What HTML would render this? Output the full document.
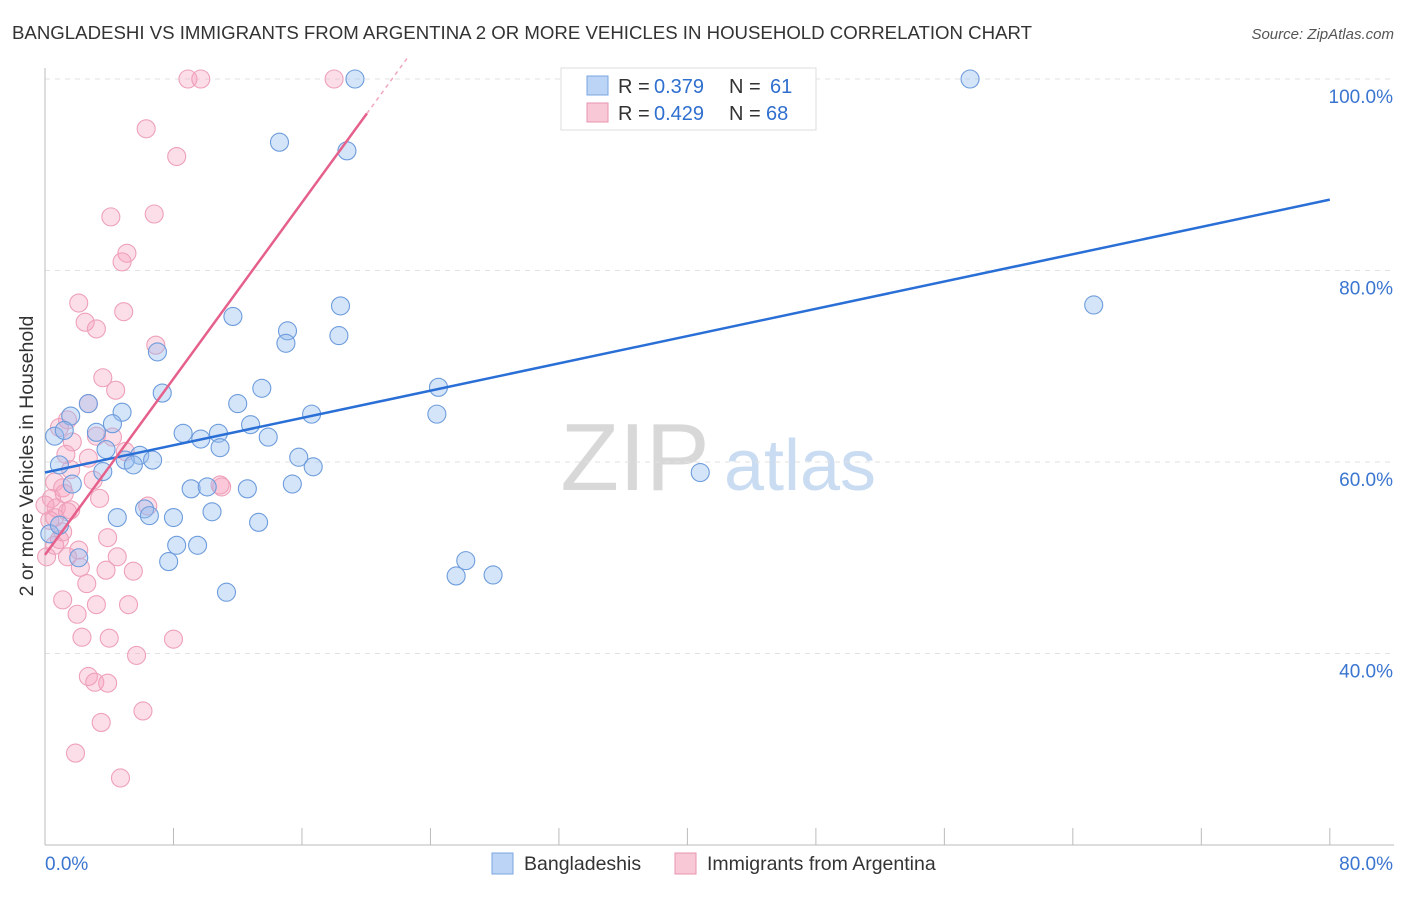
<!DOCTYPE html>
<html><head><meta charset="utf-8"><style>
body{margin:0;background:#fff;font-family:"Liberation Sans",sans-serif;}
svg text{font-family:"Liberation Sans",sans-serif;}
</style></head><body>
<svg id="chart" width="1406" height="892">
<text x="12" y="39" font-size="18" fill="#333" textLength="1020" lengthAdjust="spacingAndGlyphs">BANGLADESHI VS IMMIGRANTS FROM ARGENTINA 2 OR MORE VEHICLES IN HOUSEHOLD CORRELATION CHART</text>
<text x="1394" y="39" font-size="15" fill="#555" font-style="italic" text-anchor="end">Source: ZipAtlas.com</text>
<text transform="translate(33,456) rotate(-90)" font-size="19.5" fill="#333" text-anchor="middle">2 or more Vehicles in Household</text>
<g>
<text x="635" y="490" font-size="96" fill="#d8d8d8" font-family="Liberation Serif" text-anchor="middle">ZIP</text>
<text x="800" y="490" font-size="72" fill="#c9dcf2" text-anchor="middle">atlas</text>
</g>
<g id="grid"></g><g id="axes"></g><g id="pts"></g><g id="trend"></g>
<g>
<rect x="561" y="68" width="255" height="62" fill="#fff" stroke="#ddd"/>
<rect x="587" y="76" width="21" height="19" fill="#bcd4f5" stroke="#7aa6e0"/>
<text x="618" y="93" font-size="20" fill="#333">R = </text>
<text x="654" y="93" font-size="20" fill="#2f6fcf">0.379</text>
<text x="729" y="93" font-size="20" fill="#333">N = </text>
<text x="770" y="93" font-size="20" fill="#2f6fcf">61</text>
<rect x="587" y="103" width="21" height="19" fill="#f8c8d6" stroke="#e995b0"/>
<text x="618" y="120" font-size="20" fill="#333">R = </text>
<text x="654" y="120" font-size="20" fill="#2f6fcf">0.429</text>
<text x="729" y="120" font-size="20" fill="#333">N = </text>
<text x="766" y="120" font-size="20" fill="#2f6fcf">68</text>
</g>
<g>
<rect x="492" y="853" width="21" height="21" fill="#bcd4f5" stroke="#7aa6e0"/>
<text x="524" y="870" font-size="19.5" fill="#333">Bangladeshis</text>
<rect x="675" y="853" width="21" height="21" fill="#f8c8d6" stroke="#e995b0"/>
<text x="707" y="870" font-size="19.5" fill="#333">Immigrants from Argentina</text>
</g>
</svg>
<script>
const yTicks=[40,60,80,100];
const yTickLabels=["40.0%","60.0%","80.0%","100.0%"];
const blueX=[19.3,57.6,14.6,18.8,11.7,18.4,15.1,15.0,18.3,7.0,65.3,7.3,13.5,24.5,2.7,4.8,1.6,12.0,16.6,24.4,12.8,4.2,0.6,1.2,3.2,8.6,9.7,10.8,13.9,10.9,3.8,5.9,6.7,5.0,5.5,0.9,15.8,16.7,3.6,40.8,1.7,15.4,9.1,10.1,12.6,6.2,4.5,6.5,8.0,10.4,13.3,8.2,9.5,7.7,2.1,26.2,25.6,27.9,11.3,0.3,0.9];
const blueY=[100,100,93.4,92.5,75.2,76.3,73.7,72.4,73.2,71.5,76.4,67.2,67.7,67.8,66.1,65.2,64.8,66.1,65.0,65.0,63.9,64.0,62.7,63.3,63.1,63.0,62.4,63.0,62.6,61.5,61.3,60.7,60.2,60.2,59.7,59.7,60.5,59.5,59.0,58.9,57.7,57.7,57.2,57.4,57.2,55.1,54.2,54.4,54.2,54.8,53.7,51.3,51.3,49.6,50.0,49.7,48.1,48.2,46.4,52.5,53.4];
const pinkX=[8.9,9.7,18.0,6.3,8.2,4.1,6.8,5.1,4.8,2.1,2.5,3.2,4.9,6.9,3.6,4.4,2.7,1.4,3.2,4.2,1.7,0.9,5.0,1.3,3.0,0.6,1.1,3.4,6.4,0.4,0.7,1.4,0.6,1.6,1.1,3.9,2.1,1.4,4.5,0.1,2.2,3.8,5.5,2.6,11.0,1.1,3.2,5.2,2.0,2.3,4.0,8.0,5.7,2.7,3.1,3.9,6.1,3.5,1.9,4.7,0.9,0.3,0.6,1.2,10.9,2.7,1.6,0.0];
const pinkY=[100,100,100,94.8,91.9,85.6,85.9,81.8,80.9,76.6,74.6,73.9,75.7,72.2,68.8,67.5,66.1,64.4,62.7,62.6,62.1,63.6,61.1,60.8,58.1,57.9,57.3,56.2,55.4,56.2,55.2,54.8,54.2,55.0,52.7,52.1,50.8,50.1,50.1,50.1,49.0,48.7,48.6,47.3,57.4,45.6,45.1,45.1,44.1,41.7,41.6,41.5,39.8,37.6,37.0,36.9,34.0,32.8,29.6,27.0,51.9,53.9,51.3,56.7,57.6,60.4,59.2,55.5];
const blueTrend=[58.9,87.4]; // y at x=0 and x=80
const pinkTrend=[50.3,2.3];  // intercept, slope
const X=v=>45+v*16.06, Y=v=>79+(100-v)*9.575;
const NS="http://www.w3.org/2000/svg";
function mk(p,t,a){const e=document.createElementNS(NS,t);for(const k in a)e.setAttribute(k,a[k]);p.appendChild(e);return e;}
const grid=document.getElementById('grid'),axes=document.getElementById('axes'),pts=document.getElementById('pts'),tr=document.getElementById('trend');
yTicks.forEach((t,i)=>{
 const l=mk(grid,'line',{x1:45,x2:1394,y1:Y(t),y2:Y(t),stroke:'#e2e2e2','stroke-dasharray':'5,5'});
 
 
 const tx=mk(grid,'text',{x:1393,y:Y(t)+24,'font-size':19,fill:'#3a75d0','text-anchor':'end'});
 tx.textContent=yTickLabels[i];
 
 
});
mk(axes,'line',{x1:45,x2:45,y1:68,y2:845,stroke:'#bbb'});
mk(axes,'line',{x1:45,x2:1394,y1:845,y2:845,stroke:'#bbb'});
for(let i=0;i<=10;i++){const t=mk(axes,'line',{x1:X(i*8),x2:X(i*8),y1:828,y2:845,stroke:'#bbb'});
 
 }
const x0=mk(axes,'text',{x:45,y:870,'font-size':19,fill:'#3a75d0'});x0.textContent='0.0%';


const x1=mk(axes,'text',{x:1393,y:870,'font-size':19,fill:'#3a75d0','text-anchor':'end'});x1.textContent='80.0%';


pinkX.forEach((v,i)=>{const c=mk(pts,'circle',{cx:X(v),cy:Y(pinkY[i]),r:9,fill:'rgba(245,160,190,0.35)',stroke:'#eea0ba','stroke-width':1.1});
 
 });
blueX.forEach((v,i)=>{const c=mk(pts,'circle',{cx:X(v),cy:Y(blueY[i]),r:9,fill:'rgba(150,190,240,0.4)',stroke:'#6d9cdc','stroke-width':1.1});
 
 });
const bl=mk(tr,'line',{x1:X(0),y1:Y(blueTrend[0]),x2:X(80),y2:Y(blueTrend[1]),stroke:'#2a6fd6','stroke-width':2.5});


const xe=(96.4-pinkTrend[0])/pinkTrend[1], xd=(100-pinkTrend[0])/pinkTrend[1];
const pl=mk(tr,'line',{x1:X(0),y1:Y(pinkTrend[0]),x2:X(xe),y2:Y(pinkTrend[0]+pinkTrend[1]*xe),stroke:'#e5608a','stroke-width':2.5});


const pd=mk(tr,'line',{x1:X(xe),y1:Y(pinkTrend[0]+pinkTrend[1]*xe),x2:X(xd+1),y2:Y(pinkTrend[0]+pinkTrend[1]*(xd+1)),stroke:'#f0a6bd','stroke-width':1.5,'stroke-dasharray':'4,4'});


</script>
</body></html>
